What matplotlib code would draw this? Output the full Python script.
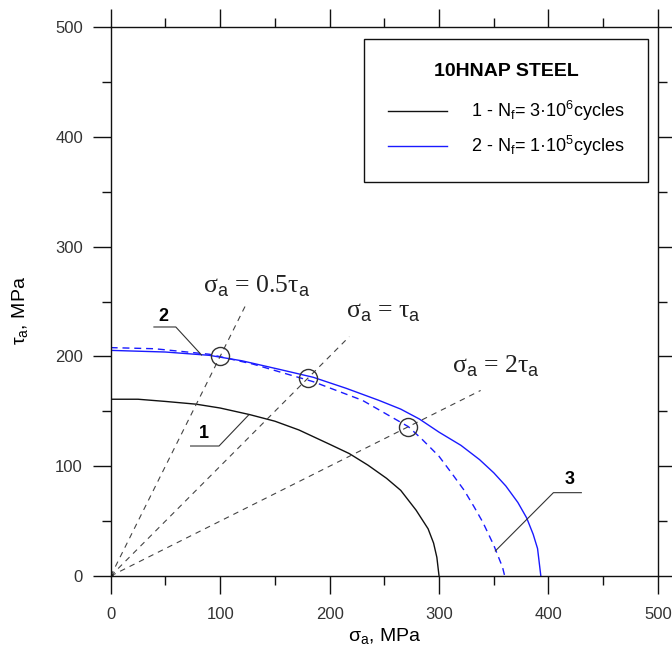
import numpy as np
import matplotlib
matplotlib.use('Agg')
import matplotlib.pyplot as plt

plt.rcParams['font.family'] = ['Liberation Sans', 'DejaVu Sans']
plt.rcParams['mathtext.fontset'] = 'custom'
plt.rcParams['mathtext.rm'] = 'Liberation Sans'
plt.rcParams['mathtext.it'] = 'Liberation Sans:italic'
plt.rcParams['mathtext.bf'] = 'Liberation Sans:bold'

# ---- data (MPa) ----
# curve 1 : Nf = 3e6 cycles (black)
sig1 = [0, 25, 50, 78, 100, 127, 150, 172, 200, 218, 235, 252, 265, 279, 290, 295, 298, 300]
tau1 = [161, 161, 159, 156.5, 153, 147, 141, 133, 120, 111.5, 101, 89, 78, 60, 43, 30, 17, 0]

# curve 2 : Nf = 1e5 cycles (blue, solid)
sig2 = [0, 50, 90, 120, 155, 185, 215, 245, 265, 282, 300, 320, 337, 350, 361, 372, 380, 386, 390, 393]
tau2 = [205.5, 204, 201, 196, 188, 181, 171, 160, 152, 143, 131, 119, 106, 94, 82, 67, 53, 38, 25, 0]

# curve 3 : blue dashed
sig3 = [0, 40, 90, 130, 185, 230, 272, 285, 300, 312, 323, 332, 340, 350, 358, 360]
tau3 = [208, 207, 202, 193, 177, 160, 136, 124, 109, 93, 78, 63, 49, 28, 8, 0]

# experimental points (circles)
pts_sig = [100, 180, 272]
pts_tau = [200, 180, 136]

# loading paths from origin
ray_sig = [123, 218, 338]
ray_tau = [246, 218, 169]
ray_txt = ['σ$_\\mathrm{a}$ = 0.5τ$_\\mathrm{a}$',
           'σ$_\\mathrm{a}$ = τ$_\\mathrm{a}$',
           'σ$_\\mathrm{a}$ = 2τ$_\\mathrm{a}$']
ray_txt_pos = [(133, 264), (249, 240), (352, 191)]

# curve number labels with leader lines
num_txt = ['1', '2', '3']
num_pos = [(85, 130), (48, 236), (419, 88)]
lead_sig = [[73, 99, 126], [39.5, 59.5, 83], [430, 404.5, 351.4]]
lead_tau = [[118.4, 118.4, 146.6], [226.8, 226.8, 201.3], [75.9, 75.9, 22.8]]

leg_labels = [r'1 - N$_\mathrm{f}$= 3·10$^\mathrm{6}$cycles',
              r'2 - N$_\mathrm{f}$= 1·10$^\mathrm{5}$cycles']

fig = plt.figure(figsize=(6.72, 6.48), dpi=100)
ax = fig.add_axes([0.1647, 0.1111, 0.8144, 0.8472])

ax.plot(sig1, tau1, color='#111111', lw=1.0, label=leg_labels[0])
ax.plot(sig2, tau2, color='#1a1aff', lw=1.0, label=leg_labels[1])
ax.plot(sig3, tau3, color='#1a1aff', lw=1.0, dashes=(5, 3.5))

for s, t in zip(ray_sig, ray_tau):
    ax.plot([0, s], [0, t], color='#444444', lw=0.8, dashes=(5, 4.5))
ax.plot([0], [0], 'o', color='#222222', ms=2.5)

ax.plot(pts_sig, pts_tau, 'o', mfc='none', mec='#333333', mew=1.0, ms=13)

for txt, (x, y) in zip(ray_txt, ray_txt_pos):
    ax.text(x, y, txt, fontsize=18.5, family=['Liberation Serif', 'DejaVu Serif'],
            color='#222222', ha='center', va='center')

for txt, (x, y), ls, lt in zip(num_txt, num_pos, lead_sig, lead_tau):
    ax.plot(ls, lt, color='#333333', lw=0.8)
    ax.text(x, y, txt, fontsize=13, fontweight='bold', ha='center', va='center')

ax.set_xlim(0, 500)
ax.set_ylim(0, 500)
ax.set_xticks(np.arange(0, 501, 100))
ax.set_yticks(np.arange(0, 501, 100))
ax.set_xticks(np.arange(0, 501, 50), minor=True)
ax.set_yticks(np.arange(0, 501, 50), minor=True)
ax.tick_params(which='both', direction='out', top=True, right=True, color='#111111', width=1.0)
ax.tick_params(which='major', length=13, pad=7, labelsize=12, labelcolor='#333333')
ax.tick_params(axis='x', which='major', pad=9)
ax.tick_params(which='minor', length=6.5)
for sp in ax.spines.values():
    sp.set_linewidth(1.0)
    sp.set_color('#111111')

ax.set_xlabel(r'σ$_\mathrm{a}$, MPa', fontsize=14, labelpad=3)
ax.set_ylabel(r'τ$_\mathrm{a}$, MPa', fontsize=14)
ax.yaxis.set_label_coords(-0.147, 0.483)

leg = ax.legend(loc='upper right', bbox_to_anchor=(0.9817, 0.978), fontsize=13,
                title='10HNAP STEEL', title_fontproperties={'weight': 'bold', 'size': 14},
                handlelength=3.3, handletextpad=1.3, labelspacing=0.6,
                borderpad=1.3, borderaxespad=0, fancybox=False,
                edgecolor='#111111', framealpha=1)
leg.get_frame().set_linewidth(1.0)
leg._legend_box.sep = 14  # extra gap under the title

fig.savefig('out.png', dpi=100)
